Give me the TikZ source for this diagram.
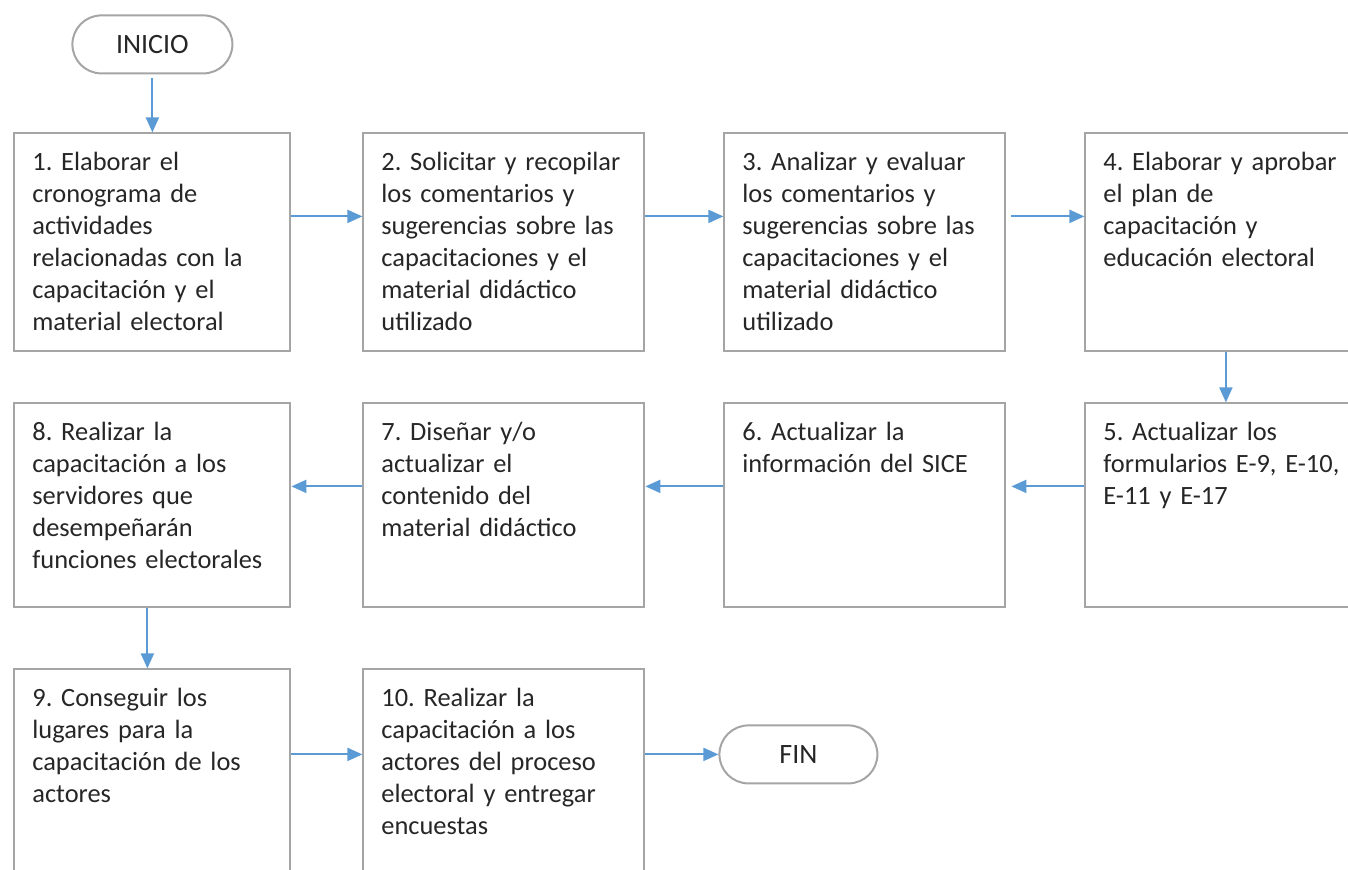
\documentclass[tikz,border=0pt]{standalone}
\usepackage{fontspec}
\setmainfont{Carlito}
\usepackage{tikz}
\usetikzlibrary{matrix,positioning}
\usetikzlibrary{arrows.meta}
\definecolor{azulflecha}{RGB}{91,155,213}
\definecolor{grisborde}{RGB}{165,165,165}
\definecolor{textogris}{RGB}{38,38,38}
\frenchspacing

\begin{document}
\begin{tikzpicture}[x=0.5pt, y=-0.5pt,
  paso/.style={draw=grisborde, line width=1pt, text=textogris, align=left, text width=122.5pt,
    inner xsep=9pt, inner ysep=7pt, text height=11.5pt, font=\fontsize{13.2}{16}\selectfont},
  terminal/.style={draw=grisborde, line width=1pt, rounded corners=14.5pt, minimum width=79pt,
    minimum height=29pt, text=textogris, font=\fontsize{14}{16}\selectfont},
  flecha/.style={color=azulflecha, line width=1pt, -{Triangle[length=7.5pt,width=6.5pt]}}]
\useasboundingbox (0,0) rectangle (1348,870);
\matrix (m) [matrix of nodes, anchor=north west, inner sep=0pt, row sep=25pt, column sep=35.5pt,
  nodes={paso}, column 1/.style={nodes={text width=120pt}},
  row 1/.style={nodes={text depth=83.5pt}}, row 2/.style={nodes={text depth=76.5pt}},
  row 3/.style={nodes={text depth=110pt}}] at (13,132)
{
	1. Elaborar el\newline cronograma de\newline actividades\newline relacionadas con la\newline capacitación y el\newline material electoral &
	2. Solicitar y recopilar\newline los comentarios y\newline sugerencias sobre las\newline capacitaciones y el\newline material didáctico\newline utilizado &[3.5pt]
	3. Analizar y evaluar\newline los comentarios y\newline sugerencias sobre las\newline capacitaciones y el\newline material didáctico\newline utilizado &[3.5pt]
	4. Elaborar y aprobar\newline el plan de\newline capacitación y\newline educación electoral \\
	8. Realizar la\newline capacitación a los\newline servidores que\newline desempeñarán\newline funciones electorales &
	7. Diseñar y/o\newline actualizar el\newline contenido del\newline material didáctico &
	6. Actualizar la\newline información del SICE &
	5. Actualizar los\newline formularios E-9, E-10,\newline E-11 y E-17 \\[5pt]
	9. Conseguir los\newline lugares para la\newline capacitación de los\newline actores &
	10. Realizar la\newline capacitación a los\newline actores del proceso\newline electoral y entregar\newline encuestas \\
};
\node (inicio) [terminal, minimum width=80pt, above=29pt of m-1-1] {INICIO};
\node (fin) [terminal, anchor=west] at ([shift={(36.5pt,-43pt)}]m-3-2.north east) {FIN};
\path[flecha]
(inicio) edge[shorten <=2pt] (m-1-1)
([yshift=-42pt]m-1-1.north east) edge ([yshift=-42pt]m-1-2.north west)
([yshift=-42pt]m-1-2.north east) edge ([yshift=-42pt]m-1-3.north west)
([xshift=2.5pt,yshift=-42pt]m-1-3.north east) edge ([yshift=-42pt]m-1-4.north west)
(m-1-4) edge (m-2-4)
([yshift=-42pt]m-2-4.north west) edge ([xshift=2.5pt,yshift=-42pt]m-2-3.north east)
([yshift=-42pt]m-2-3.north west) edge ([yshift=-42pt]m-2-2.north east)
([yshift=-42pt]m-2-2.north west) edge ([yshift=-42pt]m-2-1.north east)
([xshift=-2.5pt]m-2-1.south) edge ([xshift=-2.5pt]m-3-1.north)
([yshift=-43pt]m-3-1.north east) edge ([yshift=-43pt]m-3-2.north west)
([yshift=-43pt]m-3-2.north east) edge (fin.west)
;
\end{tikzpicture}
\end{document}
